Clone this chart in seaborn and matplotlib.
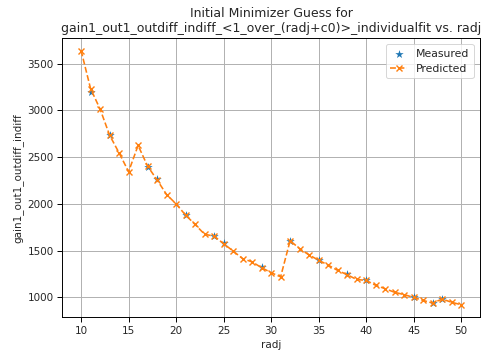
import matplotlib
matplotlib.use("Agg")
import matplotlib.pyplot as plt
import seaborn as sns
import pandas as pd

radj_pred = list(range(10, 51))
pred_vals = [3640, 3232, 3014, 2735, 2545, 2345, 2625, 2404, 2256, 2100, 2000,
             1880, 1780, 1675, 1656, 1575, 1496, 1415, 1380, 1318, 1265,
             1220, 1607, 1521, 1454, 1398, 1346, 1289, 1243, 1192, 1182,
             1130, 1093, 1055, 1030, 1000, 968, 940, 983, 948, 922]

radj_meas = [11, 13, 17, 18, 21, 24, 25, 29, 32, 35, 38, 40, 45, 47, 48]
meas_vals = [3195, 2740, 2392, 2262, 1885, 1660, 1580, 1325, 1605, 1395, 1248,
             1188, 1002, 945, 988]

sns.set_style("ticks")
plt.rcParams['font.family'] = ['DejaVu Sans']
plt.rcParams['font.size'] = 7.5

fig, ax = plt.subplots(figsize=(4.85, 3.5), dpi=100)

df_m = pd.DataFrame({"radj": radj_meas, "val": meas_vals})
df_p = pd.DataFrame({"radj": radj_pred, "val": pred_vals})

sns.scatterplot(data=df_m, x="radj", y="val", marker="*", s=40, color="#1f77b4",
                edgecolor="#1f77b4", linewidth=0, label="Measured", ax=ax, zorder=3)
sns.lineplot(data=df_p, x="radj", y="val", marker="x", markersize=5, color="#ff7f0e",
             linestyle="--", linewidth=1.15, markeredgecolor="#ff7f0e", markeredgewidth=1.0,
             label="Predicted", ax=ax, zorder=4)

ax.set_xlim(8, 52)
ax.set_ylim(786, 3776)
ax.set_xticks(range(10, 51, 5))
ax.set_yticks(range(1000, 3501, 500))
ax.grid(True, color="#b0b0b0", linewidth=0.7)
ax.set_axisbelow(True)
for s in ax.spines.values():
    s.set_color("black")
    s.set_linewidth(0.7)
ax.tick_params(labelsize=7.5, length=3.5, width=0.7, color="black", pad=2.6)
ax.set_xlabel("radj", fontsize=7.5, labelpad=3)
ax.set_ylabel("gain1_out1_outdiff_indiff", fontsize=7.5, labelpad=3)
ax.set_title("Initial Minimizer Guess for\ngain1_out1_outdiff_indiff_<1_over_(radj+c0)>_individualfit vs. radj",
             fontsize=9, pad=4.5)
leg = ax.legend(loc="upper right", fontsize=7.8, frameon=True, borderaxespad=0.6,
                handlelength=1.6)
leg.get_frame().set_edgecolor("#cccccc")
leg.get_frame().set_linewidth(0.7)

fig.subplots_adjust(left=0.128, right=0.99, top=0.892, bottom=0.093)
fig.savefig("out.png", dpi=100)
